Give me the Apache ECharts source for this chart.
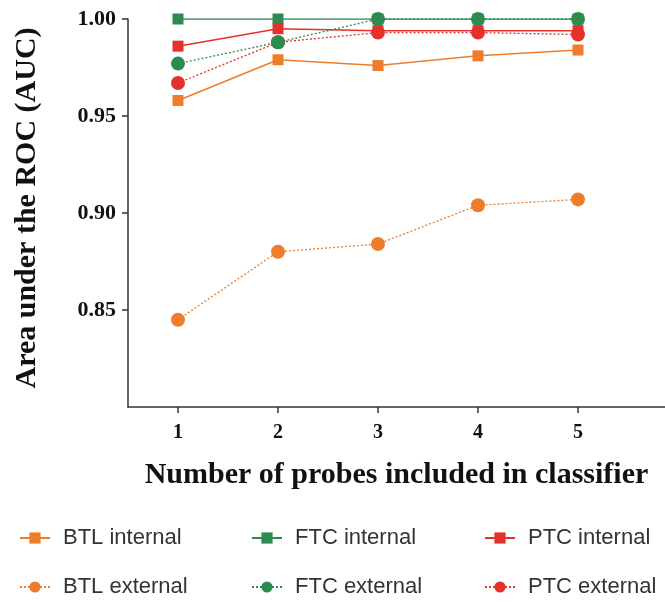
<!DOCTYPE html>
<html>
<head>
<meta charset="utf-8">
<script src="https://cdn.jsdelivr.net/npm/echarts@6/dist/echarts.min.js"></script>
<style>
  html, body { margin: 0; padding: 0; background: #fff; }
  #chart { width: 665px; height: 604px; }
</style>
</head>
<body>
<div id="chart"></div>
<script>
// number of probes
var probes = [1, 2, 3, 4, 5];
var yTicks = [0.85, 0.90, 0.95, 1.00];

// AUC values
var btlInternal = [0.958, 0.979, 0.976, 0.981, 0.984];
var ftcInternal = [1.000, 1.000, 1.000, 1.000, 1.000];
var ptcInternal = [0.986, 0.995, 0.994, 0.994, 0.994];
var btlExternal = [0.845, 0.880, 0.884, 0.904, 0.907];
var ftcExternal = [0.977, 0.988, 1.000, 1.000, 1.000];
var ptcExternal = [0.967, 0.988, 0.993, 0.993, 0.992];

var ORANGE = '#EE7D2B', GREEN = '#2E8B4F', RED = '#E5312B';
var serif = '"Liberation Serif", "Times New Roman", serif';
var sans = '"Liberation Sans", Arial, sans-serif';

function pairs(vals) {
  return probes.map(function (p, i) { return [p, vals[i]]; });
}

function mkSeries(name, vals, color, internal, z) {
  return {
    name: name,
    type: 'line',
    data: pairs(vals),
    symbol: internal ? 'rect' : 'circle',
    symbolSize: internal ? 11 : 14,
    z: z,
    itemStyle: { color: color },
    lineStyle: {
      color: color,
      width: internal ? 1.5 : 1.3,
      type: internal ? 'solid' : [2, 2]
    },
    emphasis: { disabled: true },
    animation: false
  };
}

var chart = echarts.init(document.getElementById('chart'));

// one legend per item so each sits in its own cell
function legendItem(left, top, name) {
  return {
    left: left,
    top: top,
    itemWidth: 30,
    itemHeight: 14,
    padding: 0,
    data: [name],
    textStyle: { fontFamily: sans, fontSize: 22, color: '#333', padding: [0, 0, 0, 8] },
    selectedMode: false
  };
}

var option = {
  backgroundColor: '#ffffff',
  grid: { left: 128, right: 0, top: 19, bottom: 197, outerBoundsMode: 'none', containLabel: false },
  legend: [
    legendItem(19, 527, 'BTL internal'),
    legendItem(251, 527, 'FTC internal'),
    legendItem(484, 527, 'PTC internal'),
    legendItem(19, 576, 'BTL external'),
    legendItem(251, 576, 'FTC external'),
    legendItem(484, 576, 'PTC external')
  ],
  xAxis: {
    type: 'value',
    min: 0.5,
    max: 5.87,
    interval: 0.5,
    splitLine: { show: false },
    axisLine: { lineStyle: { color: '#333', width: 1.5 } },
    axisTick: { customValues: probes, length: 6, lineStyle: { color: '#333', width: 1.5 } },
    axisLabel: {
      customValues: probes,
      margin: 16,
      fontFamily: serif, fontWeight: 'bold', fontSize: 20, color: '#111'
    },
    name: 'Number of probes included in classifier',
    nameLocation: 'middle',
    nameGap: 53,
    nameTextStyle: { fontFamily: serif, fontWeight: 'bold', fontSize: 30, color: '#111' }
  },
  yAxis: {
    type: 'value',
    min: 0.80,
    max: 1.00,
    interval: 0.05,
    splitLine: { show: false },
    axisLine: { show: true, lineStyle: { color: '#333', width: 1.5 } },
    axisTick: { show: true, customValues: yTicks, length: 6, lineStyle: { color: '#333', width: 1.5 } },
    axisLabel: {
      customValues: yTicks,
      margin: 12,
      formatter: function (v) { return v.toFixed(2); },
      fontFamily: serif, fontWeight: 'bold', fontSize: 22, color: '#111'
    },
    name: 'Area under the ROC (AUC)',
    nameLocation: 'middle',
    nameGap: 86,
    nameTextStyle: {
      fontFamily: serif, fontWeight: 'bold', fontSize: 30, color: '#111',
      padding: [0, 0, 0, 10]
    }
  },
  series: [
    mkSeries('BTL internal', btlInternal, ORANGE, true, 2),
    mkSeries('FTC internal', ftcInternal, GREEN, true, 3),
    mkSeries('PTC internal', ptcInternal, RED, true, 4),
    mkSeries('BTL external', btlExternal, ORANGE, false, 2),
    mkSeries('PTC external', ptcExternal, RED, false, 5),
    mkSeries('FTC external', ftcExternal, GREEN, false, 6)
  ]
};

chart.setOption(option);
</script>
</body>
</html>
